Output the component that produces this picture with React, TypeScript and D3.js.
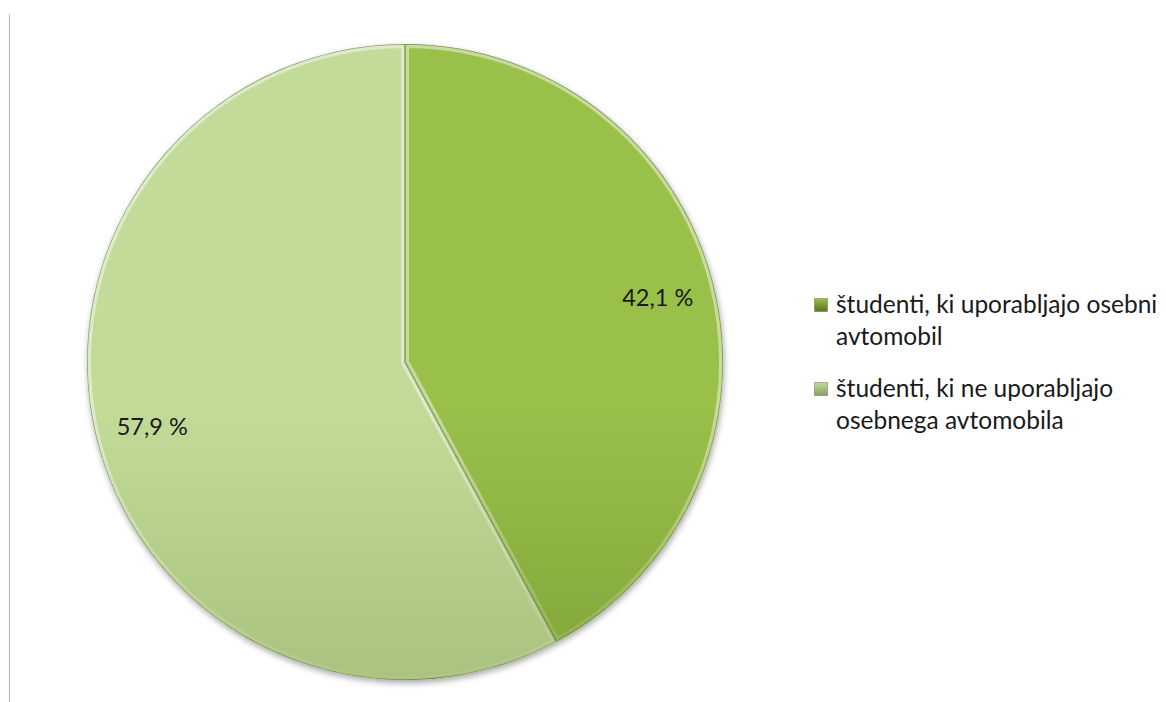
import React from "react";
import * as d3 from "d3";

const categories = [
  "študenti, ki uporabljajo osebni avtomobil",
  "študenti, ki ne uporabljajo osebnega avtomobila",
];
const values = [42.1, 57.9];
const labels = ["42,1 %", "57,9 %"];
const legendLines = [
  ["študenti, ki uporabljajo osebni", "avtomobil"],
  ["študenti, ki ne uporabljajo", "osebnega avtomobila"],
];
const gradTop = ["#99c04a", "#c3db99"];
const gradMid = ["#80a43a", "#a8c17e"];
const gradBottom = ["#587620", "#88a066"];

const W = 1166;
const H = 702;
const cx = 405;
const cy = 362;
const R = 318;
const FONT = "Lato, 'Open Sans', sans-serif";

export default function App() {
  const pie = d3.pie<number>().sort(null).value((d) => d)(values);
  const arc = d3.arc<d3.PieArcDatum<number>>().innerRadius(0).outerRadius(R);
  const labelArc = d3
    .arc<d3.PieArcDatum<number>>()
    .innerRadius(R * 0.82)
    .outerRadius(R * 0.82);

  return (
    <svg
      width={W}
      height={H}
      style={{ position: "absolute", left: 0, top: 0, background: "#fff" }}
    >
      <defs>
        {values.map((_, i) => (
          <linearGradient
            key={"g" + i}
            id={"fill" + i}
            gradientUnits="userSpaceOnUse"
            x1={0}
            y1={cy - R}
            x2={0}
            y2={cy + R}
          >
            <stop offset="0" stopColor={gradTop[i]} />
            <stop offset="0.45" stopColor={gradMid[i]} />
            <stop offset="1" stopColor={gradBottom[i]} />
          </linearGradient>
        ))}
        <linearGradient
          id="bevel"
          gradientUnits="userSpaceOnUse"
          x1={0}
          y1={cy - R}
          x2={0}
          y2={cy + R}
        >
          <stop offset="0" stopColor="#ffffff" stopOpacity={0.45} />
          <stop offset="0.4" stopColor="#ffffff" stopOpacity={0.08} />
          <stop offset="0.6" stopColor="#000000" stopOpacity={0.06} />
          <stop offset="1" stopColor="#000000" stopOpacity={0.35} />
        </linearGradient>
        {values.map((_, i) => (
          <linearGradient key={"lg" + i} id={"leg" + i} x1="0" y1="0" x2="0" y2="1">
            <stop offset="0" stopColor={gradTop[i]} />
            <stop offset="1" stopColor={gradBottom[i]} />
          </linearGradient>
        ))}
        <filter id="shadow" x="-10%" y="-10%" width="120%" height="120%">
          <feGaussianBlur in="SourceAlpha" stdDeviation="3" />
          <feOffset dx="1" dy="3" result="b" />
          <feComponentTransfer>
            <feFuncA type="linear" slope="0.35" />
          </feComponentTransfer>
          <feMerge>
            <feMergeNode />
            <feMergeNode in="SourceGraphic" />
          </feMerge>
        </filter>
        {pie.map((p, i) => (
          <clipPath key={"c" + i} id={"clip" + i}>
            <path d={arc(p) || ""} transform={`translate(${cx},${cy})`} />
          </clipPath>
        ))}
      </defs>

      <line x1={9.5} y1={14} x2={9.5} y2={H} stroke="#bdbdbd" strokeWidth={1.2} />

      <g filter="url(#shadow)">
        {pie.map((p, i) => (
          <path
            key={"s" + i}
            d={arc(p) || ""}
            transform={`translate(${cx},${cy})`}
            fill={`url(#fill${i})`}
          />
        ))}
      </g>
      {pie.map((p, i) => (
        <g key={"b" + i} clipPath={`url(#clip${i})`}>
          <path
            d={arc(p) || ""}
            transform={`translate(${cx},${cy})`}
            fill="none"
            stroke="url(#bevel)"
            strokeWidth={8}
            strokeLinejoin="round"
          />
          <path
            d={arc(p) || ""}
            transform={`translate(${cx},${cy})`}
            fill="none"
            stroke="#3f5716"
            strokeOpacity={0.5}
            strokeWidth={1.6}
          />
        </g>
      ))}

      {pie.map((p, i) => {
        const [lx, ly] = labelArc.centroid(p);
        return (
          <text
            key={"t" + i}
            x={cx + lx}
            y={cy + ly}
            dy="0.36em"
            textAnchor="middle"
            fontFamily={FONT}
            fontSize={23.5}
            fill="#1a1a1a"
          >
            {labels[i]}
          </text>
        );
      })}

      {legendLines.map((lines, i) => {
        const y0 = 313 + i * 84;
        return (
          <g key={"l" + i}>
            <rect
              x={814.5}
              y={y0 - 14.5}
              width={13}
              height={13}
              fill={`url(#leg${i})`}
              stroke="#4f6a1c"
              strokeOpacity={0.5}
              strokeWidth={0.8}
            />
            {lines.map((ln, j) => (
              <text
                key={j}
                x={836}
                y={y0 + j * 32}
                fontFamily={FONT}
                fontSize={24.5}
                fill="#1a1a1a"
              >
                {ln}
              </text>
            ))}
          </g>
        );
      })}
    </svg>
  );
}
